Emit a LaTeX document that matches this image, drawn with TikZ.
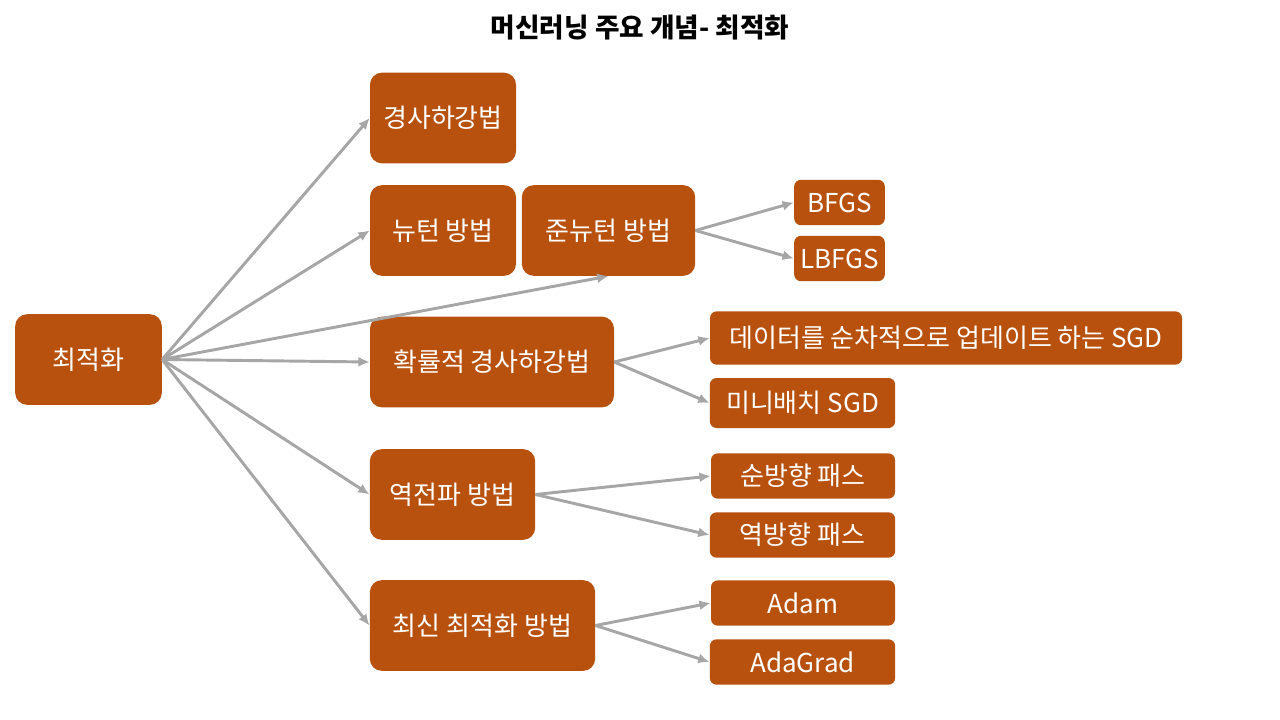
\documentclass[tikz,border=0pt]{standalone}
\usepackage{fontspec}
\usepackage{xcolor}
\usepackage{tikz}
\usetikzlibrary{arrows.meta,positioning}
\setmainfont{Noto Sans CJK KR}
\definecolor{rust}{RGB}{185,81,14}
\definecolor{linegray}{RGB}{166,166,166}

\begin{document}
\begin{tikzpicture}[x=0.75pt, y=-0.75pt,
    box/.style={rectangle, fill=rust, text=white, rounded corners=9pt, minimum height=68pt, inner sep=0pt, text centered, font=\fontsize{19.5}{22}\selectfont},
    leaf/.style={box, rounded corners=5pt, minimum height=34pt, font=\fontsize{19.5}{22}\selectfont},
    arrow/.style={->, line width=2.2pt, draw=linegray, >={Latex[length=8.5pt, width=7.5pt]}}]
  \useasboundingbox (0,0) rectangle (1280,720);
  \node[font=\bfseries\fontsize{20}{22}\selectfont] (title) at (640,28) {머신러닝 주요 개념- 최적화};
  % main branch
  \node[box, minimum width=110pt] (opt) at (88.5,359.5) {최적화};
  \node[box, minimum width=109.5pt] (gd) at (443,118) {경사하강법};
  \node[box, minimum width=109.5pt] (newton) at (443,230.5) {뉴턴 방법};
  \node[box, minimum width=130pt] (quasi) at (608.5,230.5) {준뉴턴 방법};
  \node[box, minimum width=183pt] (sgd) at (492,362) {확률적 경사하강법};
  \node[box, minimum width=124pt] (backprop) at (452.5,494.5) {역전파 방법};
  \node[box, minimum width=169pt] (modern) at (482.5,625.5) {최신 최적화 방법};
  % leaves
  \node[leaf, minimum width=68pt] (bfgs) at (839.5,202.5) {BFGS};
  \node[leaf, minimum width=68pt] (lbfgs) at (839.5,258.5) {LBFGS};
  \node[leaf, minimum width=354pt, minimum height=40pt] (online) at (946,338) {데이터를 순차적으로 업데이트 하는 SGD};
  \node[leaf, minimum width=139pt, minimum height=37.5pt] (mini) at (802.5,403) {미니배치 SGD};
  \node[leaf, minimum width=138pt] (fwd) at (803,476) {순방향 패스};
  \node[leaf, minimum width=139pt] (bwd) at (802.5,535) {역방향 패스};
  \node[leaf, minimum width=138pt] (adam) at (803,603) {Adam};
  \node[leaf, minimum width=139pt] (adagrad) at (802.5,662) {AdaGrad};
  % connectors
  \draw[arrow] (opt.east) -- (gd.west);
  \draw[arrow] (opt.east) -- (newton.west);
  \draw[arrow] (opt.east) -- (quasi.south);
  \draw[arrow] (opt.east) -- (sgd.west);
  \draw[arrow] (opt.east) -- (backprop.west);
  \draw[arrow] (opt.east) -- (modern.west);
  \draw[arrow] (quasi.east) -- (bfgs.west);
  \draw[arrow] (quasi.east) -- (lbfgs.west);
  \draw[arrow] (sgd.east) -- (online.west);
  \draw[arrow] (sgd.east) -- (mini.west);
  \draw[arrow] (backprop.east) -- (fwd.west);
  \draw[arrow] (backprop.east) -- (bwd.west);
  \draw[arrow] (modern.east) -- (adam.west);
  \draw[arrow] (modern.east) -- (adagrad.west);
\end{tikzpicture}
\end{document}
